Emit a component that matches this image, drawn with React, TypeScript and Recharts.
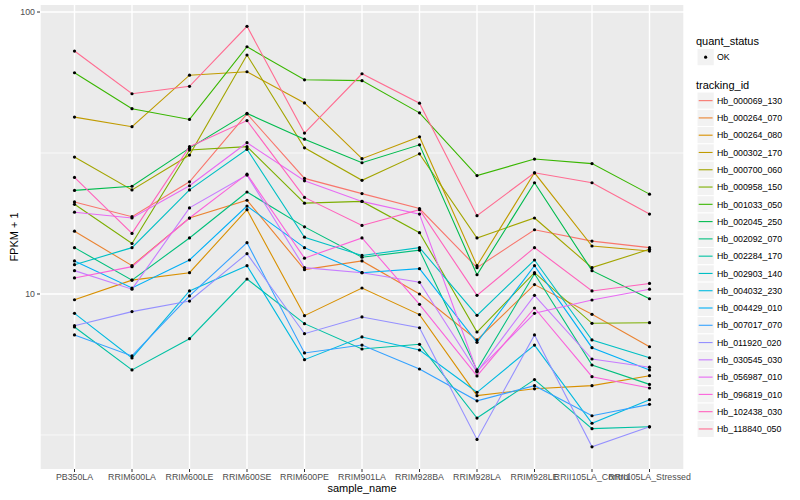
import React from 'react';
import { ComposedChart, Line, XAxis, YAxis, CartesianGrid, Legend } from 'recharts';

const categories = [
  'PB350LA', 'RRIM600LA', 'RRIM600LE', 'RRIM600SE', 'RRIM600PE', 'RRIM901LA',
  'RRIM928BA', 'RRIM928LA', 'RRIM928LE', 'RRII105LA_Control', 'RRII105LA_Stressed',
];

const hb_000069_130 = [21.2, 18.8, 25.0, 43.5, 25.7, 22.7, 20.1, 12.4, 16.9, 15.4, 14.6];
const hb_000264_070 = [16.7, 12.6, 18.6, 21.5, 12.2, 13.1, 10.0, 6.87, 10.8, 8.47, 6.5];
const hb_000264_080 = [9.54, 11.2, 11.9, 19.9, 8.38, 10.5, 8.45, 4.36, 4.61, 4.73, 5.13];
const hb_000302_170 = [42.4, 39.2, 59.7, 61.4, 47.6, 30.2, 36.1, 12.6, 26.9, 14.8, 14.2];
const hb_000700_060 = [30.6, 23.4, 31.1, 70.4, 33.0, 25.3, 31.4, 15.8, 18.6, 12.4, 14.4];
const hb_000958_150 = [20.8, 15.1, 32.4, 33.3, 21.0, 21.3, 16.5, 7.33, 11.9, 7.87, 7.91];
const hb_001033_050 = [60.9, 45.4, 41.6, 75.3, 57.5, 57.1, 43.9, 26.3, 30.1, 29.0, 22.6];
const hb_002045_250 = [23.3, 24.1, 32.9, 43.7, 35.4, 29.2, 33.8, 11.7, 24.8, 12.1, 9.62];
const hb_002092_070 = [14.6, 11.2, 15.8, 23.0, 17.3, 13.5, 14.3, 5.38, 11.8, 5.6, 4.78];
const hb_002284_170 = [7.64, 5.38, 6.94, 11.3, 7.85, 6.38, 6.63, 3.63, 4.97, 3.33, 3.38];
const hb_002903_140 = [12.7, 14.6, 23.4, 32.6, 15.9, 13.7, 14.6, 8.4, 13.2, 6.87, 5.94];
const hb_004032_230 = [8.54, 5.93, 10.25, 12.6, 5.85, 7.04, 6.33, 4.48, 6.59, 3.48, 4.22];
const hb_004429_010 = [13.1, 10.5, 13.2, 20.5, 14.6, 11.9, 12.3, 6.74, 12.6, 6.45, 5.38];
const hb_007017_070 = [7.16, 6.03, 9.84, 15.2, 6.18, 6.59, 5.42, 4.18, 4.73, 3.7, 4.06];
const hb_011920_020 = [7.72, 8.66, 9.44, 13.9, 7.23, 8.29, 7.59, 3.05, 7.16, 2.87, 3.38];
const hb_030545_030 = [12.1, 10.4, 20.2, 26.4, 12.4, 11.9, 11.0, 5.29, 9.89, 5.88, 5.5];
const hb_056987_010 = [19.5, 18.6, 24.2, 34.4, 25.2, 21.3, 19.2, 5.32, 8.54, 9.52, 10.4];
const hb_096819_010 = [11.4, 12.5, 18.6, 26.6, 13.4, 15.8, 9.19, 5.12, 8.92, 5.09, 4.64];
const hb_102438_030 = [25.9, 16.4, 33.3, 41.2, 22.0, 17.5, 19.9, 9.89, 14.6, 10.25, 10.9];
const hb_118840_050 = [72.7, 51.3, 54.5, 89.0, 37.2, 60.4, 47.5, 18.96, 26.9, 24.8, 19.2];

const trackingIds = [
  'Hb_000069_130', 'Hb_000264_070', 'Hb_000264_080', 'Hb_000302_170', 'Hb_000700_060',
  'Hb_000958_150', 'Hb_001033_050', 'Hb_002045_250', 'Hb_002092_070', 'Hb_002284_170',
  'Hb_002903_140', 'Hb_004032_230', 'Hb_004429_010', 'Hb_007017_070', 'Hb_011920_020',
  'Hb_030545_030', 'Hb_056987_010', 'Hb_096819_010', 'Hb_102438_030', 'Hb_118840_050',
];

const seriesColors = [
  '#F8766D', '#EA8331', '#D89000', '#C09B00', '#A3A500', '#7CAE00', '#39B600', '#00BB4E',
  '#00BF7D', '#00C1A3', '#00BFC4', '#00BAE0', '#00B0F6', '#35A2FF', '#9590FF', '#C77CFF',
  '#E76BF3', '#FA62DB', '#FF62BC', '#FF6C91',
];

const seriesValues = [
  hb_000069_130, hb_000264_070, hb_000264_080, hb_000302_170, hb_000700_060,
  hb_000958_150, hb_001033_050, hb_002045_250, hb_002092_070, hb_002284_170,
  hb_002903_140, hb_004032_230, hb_004429_010, hb_007017_070, hb_011920_020,
  hb_030545_030, hb_056987_010, hb_096819_010, hb_102438_030, hb_118840_050,
];

const quantStatus = ['OK'];
const yTicks = [10, 100];
const yMinorTicks = [3.1623, 31.623];
const yDomain = [2.395, 105.9];

const data = categories.map((c, i) => {
  const row: Record<string, any> = { sample_name: c };
  trackingIds.forEach((id, k) => {
    row[id] = seriesValues[k][i];
  });
  return row;
});

const FONT = '"Liberation Sans", Arial, Helvetica, sans-serif';
const KEY = 17.28;

function LegendContent() {
  const top = 92;
  return (
    <svg width={110} height={460} style={{ display: 'block', overflow: 'visible' }}>
      <text x={6} y={45} fontSize={11} fontFamily={FONT} fill="#000">quant_status</text>
      {quantStatus.map((q, i) => (
        <g key={q}>
          <rect x={7} y={48.5 + i * KEY} width={KEY} height={KEY} fill="#F2F2F2" stroke="#FFFFFF" strokeWidth={1} />
          <circle cx={7 + KEY / 2} cy={48.5 + KEY / 2 + i * KEY} r={1.6} fill="#000" />
          <text x={27} y={48.5 + KEY / 2 + 3.2 + i * KEY} fontSize={8.8} fontFamily={FONT} fill="#000">{q}</text>
        </g>
      ))}
      <text x={6} y={89} fontSize={11} fontFamily={FONT} fill="#000">tracking_id</text>
      {trackingIds.map((id, i) => {
        const y = top + i * KEY;
        return (
          <g key={id}>
            <rect x={7} y={y} width={KEY} height={KEY} fill="#F2F2F2" stroke="#FFFFFF" strokeWidth={1} />
            <line x1={8.7} x2={7 + KEY - 1.7} y1={y + KEY / 2} y2={y + KEY / 2} stroke={seriesColors[i]} strokeWidth={1.1} />
            <text x={27} y={y + KEY / 2 + 3.2} fontSize={8.8} fontFamily={FONT} fill="#000">{id}</text>
          </g>
        );
      })}
    </svg>
  );
}

export default function App() {
  return (
    <div style={{ position: 'absolute', left: 0, top: 0, width: 800, height: 500, background: '#FFFFFF' }}>
      <ComposedChart width={800} height={500} data={data} margin={{ top: 5, right: 116, bottom: 0, left: 0 }}>
        <CartesianGrid fill="#EBEBEB" stroke="#FFFFFF" strokeWidth={0.7} vertical={false} horizontalValues={yMinorTicks} />
        <CartesianGrid stroke="#FFFFFF" strokeWidth={1.4} horizontalValues={yTicks} fill="none" />
        <XAxis
          dataKey="sample_name"
          type="category"
          interval={0}
          padding={{ left: 34.5, right: 34.5 }}
          height={31}
          tickSize={3}
          tickMargin={2}
          axisLine={false}
          tickLine={{ stroke: '#333333' }}
          tick={{ fontSize: 8.8, fill: '#4D4D4D', fontFamily: FONT }}
        />
        <YAxis
          type="number"
          scale="log"
          domain={yDomain}
          allowDataOverflow
          ticks={yTicks}
          width={40}
          tickSize={3}
          tickMargin={2}
          axisLine={false}
          tickLine={{ stroke: '#333333' }}
          tick={{ fontSize: 8.8, fill: '#4D4D4D', fontFamily: FONT }}
        />
        {trackingIds.map((id, k) => (
          <Line
            key={'l' + id}
            dataKey={id}
            stroke={seriesColors[k]}
            strokeWidth={1.1}
            dot={false}
            activeDot={false}
            legendType="none"
            isAnimationActive={false}
          />
        ))}
        {trackingIds.map((id) => (
          <Line
            key={'p' + id}
            dataKey={id}
            stroke="none"
            dot={{ r: 1.6, fill: '#000000', stroke: 'none' }}
            activeDot={false}
            legendType="none"
            isAnimationActive={false}
          />
        ))}
        <Legend
          content={<LegendContent />}
          layout="vertical"
          align="center"
          verticalAlign="middle"
          wrapperStyle={{ left: 690, top: 0, width: 110, height: 460 }}
        />
      </ComposedChart>
      <svg width={800} height={500} style={{ position: 'absolute', left: 0, top: 0, pointerEvents: 'none' }}>
        <text x={362} y={492} fontSize={11} fontFamily={FONT} fill="#000" textAnchor="middle">sample_name</text>
        <text x={18} y={237} fontSize={11} fontFamily={FONT} fill="#000" textAnchor="middle" transform="rotate(-90 18 237)">FPKM + 1</text>
      </svg>
    </div>
  );
}
